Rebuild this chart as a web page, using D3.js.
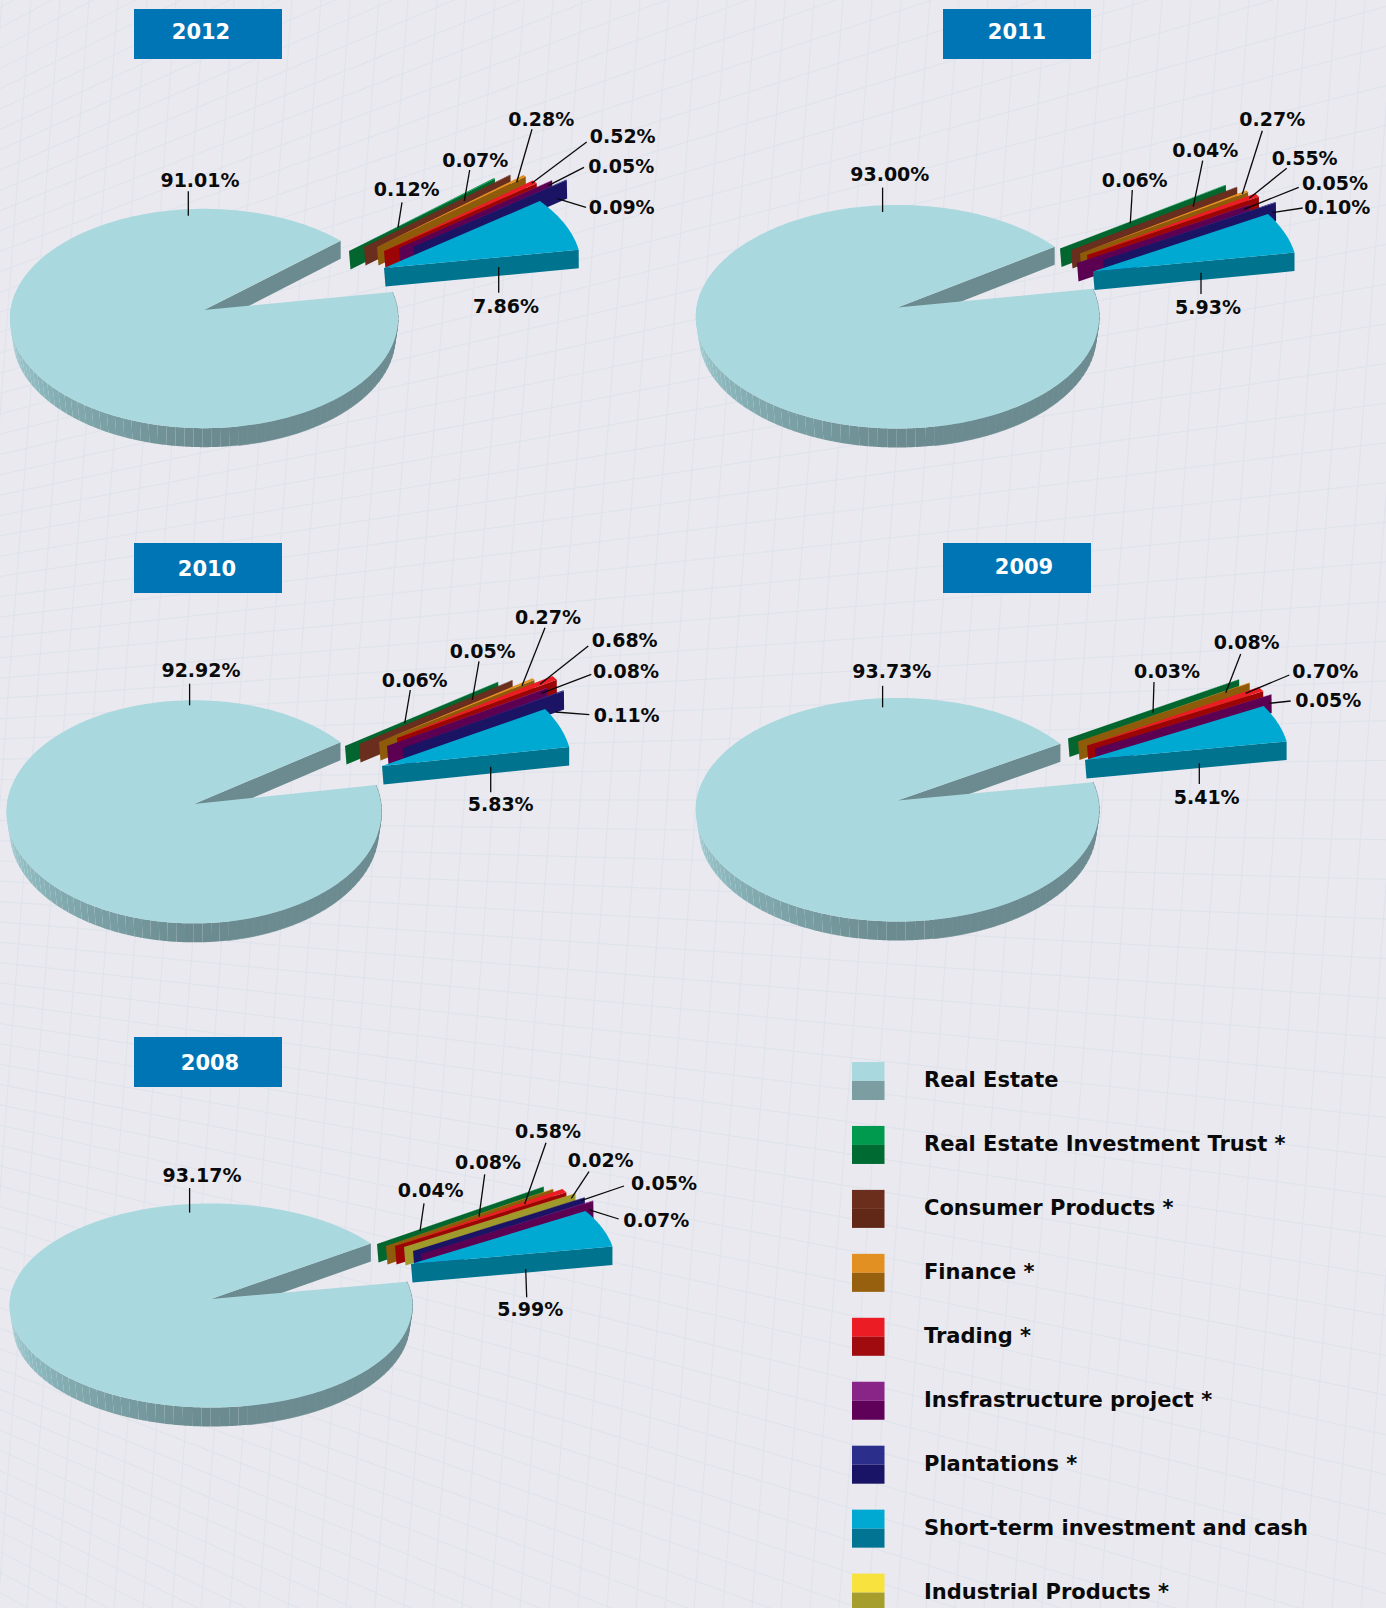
<!DOCTYPE html>
<html>
<head>
<meta charset="utf-8">
<script src="https://cdn.jsdelivr.net/npm/d3@7"></script>
<style>
html,body{margin:0;padding:0;background:#e9e9ef;overflow:hidden}
svg{display:block}
text{font-family:"DejaVu Sans",sans-serif;font-weight:700}
</style>
</head>
<body>
<svg id="chart" width="1386" height="1608"></svg>
<script>
// ---- categories ----
const RE="Real Estate",REIT="Real Estate Investment Trust *",CONS="Consumer Products *",FIN="Finance *",
      TRD="Trading *",INF="Insfrastructure project *",PLT="Plantations *",CASH="Short-term investment and cash",IND="Industrial Products *";
const legendCategories=[RE,REIT,CONS,FIN,TRD,INF,PLT,CASH,IND];

// ---- series values, percent, clockwise from the first exploded slice ----
const years=[2012,2011,2010,2009,2008];
const cats2012=[REIT,CONS,FIN,TRD,INF,PLT,CASH,RE];
const vals2012=[0.12,0.07,0.28,0.52,0.05,0.09,7.86,91.01];
const cats2011=[REIT,CONS,FIN,TRD,INF,PLT,CASH,RE];
const vals2011=[0.06,0.04,0.27,0.55,0.05,0.10,5.93,93.00];
const cats2010=[REIT,CONS,FIN,TRD,INF,PLT,CASH,RE];
const vals2010=[0.06,0.05,0.27,0.68,0.08,0.11,5.83,92.92];
const cats2009=[REIT,FIN,TRD,INF,CASH,RE];
const vals2009=[0.03,0.08,0.70,0.05,5.41,93.73];
const cats2008=[REIT,FIN,TRD,IND,PLT,INF,CASH,RE];
const vals2008=[0.04,0.08,0.58,0.02,0.05,0.07,5.99,93.17];

// ---- styles ----
const topColor=d3.scaleOrdinal().domain(legendCategories)
  .range(["#a9d8de","#009a4e","#6b2e1c","#e39022","#ec1c24","#8a2588","#2b2e8b","#00a9d2","#f8e23d"]);
const faceColor=d3.scaleOrdinal().domain(legendCategories)
  .range(["#6b8b90","#03662f","#692e1d","#8e5b0a","#9c0505","#5c0052","#1b1464","#00738f","#a09a2c"]);
const legendLow=d3.scaleOrdinal().domain(legendCategories)
  .range(["#7c9ea2","#006a33","#622817","#96600e","#a00b10","#5f0059","#1a1466","#007492","#a59d2c"]);

// ---- layout of each pie (not data) ----
const layouts={
 2012:{apex:[206,310],mainDx:-2,mainRx:193.5,rx:195,ry:109,k:.0775,start:48,box:[134,9],yearX:201,yearY:32,
  explode:[[143,-59],[158,-63],[171,-63],[178,-59],[193,-62],[207,-63],[178,-42]],
  labels:[[406.7,189.3,402,202.3,398,227.3],[475.3,160,469.7,170,464.3,201],[541.3,118.7,532,129.3,516.7,182.3],
          [622.7,135.7,586.7,142,531.7,183.3],[621.3,166,584,167.3,548.3,185.7],[621.7,206.7,586,207.3,557.3,198.7],
          [506,305.7,498.7,292.7,498.7,267],[200,180,188.3,191.3,188.3,215.7]]},
 2011:{apex:[899,307.5],mainDx:-1.5,mainRx:201,rx:202,ry:111,k:.0826,start:55,box:[943,9],yearX:1017,yearY:32,
  explode:[[161,-59],[172,-57.5],[181,-54],[188,-52.5],[178,-44.5],[204,-47.5],[194,-36]],
  labels:[[1134.7,180,1132.3,190,1130.3,223.3],[1205.3,150,1202.7,160.7,1193.3,206.7],[1272.3,119.3,1262.3,130.7,1242.3,194],
          [1304.7,158,1286.7,168.3,1249.3,198.3],[1335,182.7,1298.7,187.3,1244,209.3],[1337.3,207.3,1302.7,208,1272.3,212.7],
          [1208,307.3,1201,294,1201,272.7],[889.8,174.3,882.6,187.6,882.6,212]]},
 2010:{apex:[195,804],mainDx:-1,mainRx:187,rx:187.5,ry:111,k:.07,start:54.6,box:[134,543],yearX:207,yearY:569,
  explode:[[150,-58],[164,-60],[184,-62],[202,-66],[192,-58],[208,-56],[187,-38]],
  labels:[[414.7,680,410.3,690,404.7,723.3],[482.7,651,479,661.3,472.3,700],[548,616.7,545,627.7,522,685.7],
          [624.7,640,588.3,646,540,684.3],[626,671,591.3,674.3,541.3,693.3],[626.7,715,589.3,714.7,555.3,712],
          [500.7,804.3,490.7,792.3,490.7,766.7],[201,670.4,189.6,683.7,189.6,705.3]]},
 2009:{apex:[899,800.5],mainDx:-1.5,mainRx:201,rx:202,ry:111,k:.0826,start:57.8,box:[943,543],yearX:1024,yearY:567,
  explode:[[169,-62],[179,-59],[188,-55],[196,-52],[186,-40.5]],
  labels:[[1167,671,1154,682,1153,712.7],[1246.7,641.7,1240.7,654,1225.7,692.7],[1325.3,671,1289.3,675,1245.7,693.3],
          [1328.3,700,1290.7,701,1269.3,703.3],[1206.7,796.7,1199.3,784,1199.3,763.3],[891.8,671.4,882.6,685.8,882.6,707.3]]},
 2008:{apex:[212,1299],mainDx:-1,mainRx:201,rx:202,ry:101.6,k:.0637,start:55.5,box:[134,1037],yearX:210,yearY:1063,
  explode:[[165,-55],[174,-53],[183,-53],[192,-52],[201,-48],[209,-45],[199,-35]],
  labels:[[430.7,1190,424,1203.3,420,1231],[488,1162.3,484.7,1174.3,479,1216.7],[548,1130.7,546,1142.7,524.7,1204],
          [600.7,1160,589,1171.7,571.3,1198.3],[664,1183.3,624,1186,581,1200.7],[656.3,1220,618.7,1219,588.7,1209.7],
          [530.3,1309.3,526.7,1297.3,525.7,1269],[202,1174.8,189.6,1188,189.6,1212.6]]}
};
const seriesByYear={2012:[cats2012,vals2012],2011:[cats2011,vals2011],2010:[cats2010,vals2010],2009:[cats2009,vals2009],2008:[cats2008,vals2008]};

const svg=d3.select("#chart");
const W=1386,H=1608,DEPTH=19;
const fmt=d3.format(".2f");
const line=d3.line();

// ---- background sheet with a faint perspective grid ----
svg.append("rect").attr("width",W).attr("height",H).attr("fill","#e9e9ef");
const gridG=svg.append("g").attr("stroke","#dfe3ec").attr("stroke-width",1).attr("fill","none");
const vanish=[-1455,800];
d3.range(-60,60).forEach(i=>{
  const yAtEdge=800+i*30;                 // fan of nearly horizontal lines
  const slope=(yAtEdge-vanish[1])/(W/2-vanish[0]);
  gridG.append("path").attr("d",line([[0,vanish[1]+slope*(0-vanish[0])],[W,vanish[1]+slope*(W-vanish[0])]]));
});
d3.range(-20,80).forEach(i=>{
  const x0=i*29;                           // nearly vertical lines
  gridG.append("path").attr("d",line([[x0+60,0],[x0-60,H]]));
});

// ---- one 3D pie ----
function drawPie(year){
  const L=layouts[year],[cats,vals]=seriesByYear[year];
  const g=svg.append("g").attr("class","pie-"+year);
  const a0=L.start*Math.PI/180;
  const arcs=d3.pie().sort(null).value(d=>d).startAngle(a0).endAngle(a0+2*Math.PI)(vals);
  const proj=(c,rx,ry,k,a)=>{const f=1/(1+k*Math.cos(a));return [c[0]+rx*Math.sin(a)*f,c[1]-ry*Math.cos(a)*f];};
  const sweep=(c,rx,ry,k,s,e,step)=>{
    const n=Math.max(1,Math.ceil((e-s)/step));
    return d3.range(n+1).map(i=>proj(c,rx,ry,k,s+(e-s)*i/n));
  };
  // main slice
  const mainIdx=cats.indexOf(RE),m=arcs[mainIdx];
  const mainApex=[L.apex[0]+L.mainDx,L.apex[1]];
  const mainTop=[mainApex,...sweep(mainApex,L.mainRx,L.ry,L.k,m.startAngle,m.endAngle,.02)];
  const lowApex=[mainApex[0],mainApex[1]+DEPTH];
  // the straight cut that faces the viewer
  const cutEnd=proj(mainApex,L.mainRx,L.ry,L.k,m.endAngle);
  g.append("path").attr("fill",faceColor(RE))
    .attr("d",line([mainApex,cutEnd,[cutEnd[0],cutEnd[1]+DEPTH-1],lowApex])+"Z");
  // outer wall, banded: smooth on the shaded side, seams showing on the lit side
  const shade=d3.scaleLinear().domain([0,180,225,270]).range(["#6b8b90","#6b8b90","#84aeb3","#a9d8de"]);
  const wallStep=2.5*Math.PI/180;
  const wStart=Math.max(m.startAngle,Math.PI/2-.2),wEnd=Math.PI*1.5+.15;
  d3.range(wStart,wEnd,wallStep).forEach(a=>{
    const b=Math.min(a+wallStep,wEnd);
    const top=sweep(mainApex,L.mainRx,L.ry,L.k,a,b,.01);
    const bot=sweep(lowApex,L.mainRx-3,L.ry,L.k,a,b,.01).reverse();
    const col=shade(a*180/Math.PI);
    const p=g.append("path").attr("fill",col).attr("d",line(top.concat(bot))+"Z");
    if(a*180/Math.PI<170) p.attr("stroke",col).attr("stroke-width",.7);
  });
  g.append("path").attr("fill",topColor(RE)).attr("d",line(mainTop)+"Z");

  // exploded slices, back to front
  arcs.forEach((d,i)=>{
    if(i===mainIdx)return;
    const off=L.explode[i],c=[L.apex[0]+off[0],L.apex[1]+off[1]];
    const cl=[c[0]+1.5,c[1]+18.5];
    const r=L.rx+(cats[i]===CASH?2.5:0);
    const tip=proj(c,r,L.ry,0,d.endAngle);
    const tipLow=proj(cl,r-1.5,L.ry,0,d.endAngle);
    g.append("path").attr("fill",faceColor(cats[i])).attr("d",line([c,tip,tipLow,cl])+"Z");
    g.append("path").attr("fill",topColor(cats[i]))
      .attr("d",line([c,...sweep(c,r,L.ry,0,d.startAngle,d.endAngle,.01)])+"Z");
  });

  // labels & leaders
  vals.forEach((v,i)=>{
    const [tx,ty,x1,y1,x2,y2]=L.labels[i];
    g.append("path").attr("stroke","#0a0a0a").attr("stroke-width",1.3).attr("fill","none").attr("d",line([[x1,y1],[x2,y2]]));
    g.append("text").attr("x",tx).attr("y",ty).attr("text-anchor","middle").attr("dominant-baseline","central")
      .attr("font-size",19).attr("fill","#0a0a0a").text(fmt(v)+"%");
  });

  // year tag
  g.append("rect").attr("x",L.box[0]).attr("y",L.box[1]).attr("width",148).attr("height",50).attr("fill","#0075b5");
  g.append("text").attr("x",L.yearX).attr("y",L.yearY).attr("text-anchor","middle").attr("dominant-baseline","central")
    .attr("font-size",21).attr("fill","#fff").text(year);
}
years.forEach(drawPie);

// ---- legend ----
const legendY=d3.scaleLinear().domain([0,legendCategories.length-1]).range([1081,1592.6]);
const lg=svg.append("g").attr("class","legend");
legendCategories.forEach((c,i)=>{
  const y=legendY(i);
  lg.append("rect").attr("x",852).attr("y",y-19).attr("width",32.5).attr("height",19).attr("fill",topColor(c));
  lg.append("rect").attr("x",852).attr("y",y).attr("width",32.5).attr("height",19).attr("fill",legendLow(c));
  lg.append("text").attr("x",924).attr("y",y-1).attr("dominant-baseline","central")
    .attr("font-size",21).attr("fill","#0a0a0a").text(c);
});
</script>
</body>
</html>
